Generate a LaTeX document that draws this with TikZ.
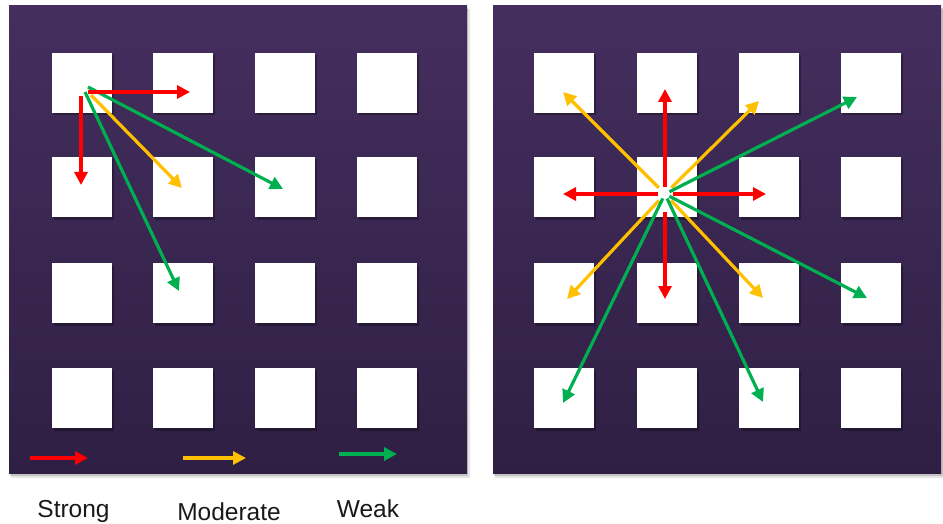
\documentclass[tikz,border=0pt]{standalone}
\usepackage{fontspec}
\setmainfont{Liberation Sans}
\usetikzlibrary{arrows.meta}
\definecolor{pantop}{RGB}{68,46,94}
\definecolor{panbot}{RGB}{47,31,68}
\definecolor{cred}{RGB}{255,0,0}
\definecolor{cyel}{RGB}{255,192,0}
\definecolor{cgrn}{RGB}{0,176,80}
\tikzset{
  cell/.style={fill=white, minimum size=60pt, inner sep=0pt, draw=none},
  link/.style={line width=3.2pt, -{Triangle[length=13pt,width=13pt]}},
  legendtext/.style={font=\fontsize{24.5}{28}\selectfont, anchor=base, text=black!90, text depth=0pt, inner ysep=1pt},
  panel/.style={top color=pantop, bottom color=panbot}
}
\begin{document}
\begin{tikzpicture}[x=1pt,y=-1pt]
\useasboundingbox (0,0) rectangle (943,524);
% panel shadows
\fill[black,opacity=0.10] (11,9) rectangle (470,478);
\fill[black,opacity=0.15] (10,8) rectangle (468,476);
\fill[black,opacity=0.10] (495,9) rectangle (943,478);
\fill[black,opacity=0.15] (494,8) rectangle (943,476);
% panels
\shade[panel] (9,6) rectangle (467,473);
\shade[panel] (493,6) rectangle (941,473);
% cells
\foreach \c/\x in {1/82,2/183,3/285,4/387}{
  \foreach \r/\y in {1/83,2/187,3/293,4/398}{
    \fill[black,opacity=0.3] (\x+2,\y+2.5) ++(-30,-30) rectangle ++(60,60);
    \node[cell] (L\r\c) at (\x,\y) {};
  }
}
\foreach \c/\x in {1/564,2/667,3/769,4/871}{
  \foreach \r/\y in {1/83,2/187,3/293,4/398}{
    \fill[black,opacity=0.3] (\x+2,\y+2.5) ++(-30,-30) rectangle ++(60,60);
    \node[cell] (R\r\c) at (\x,\y) {};
  }
}
% left arrows
\coordinate (Lo) at (87,90);
\coordinate (LtA) at (190,92);
\coordinate (LtB) at (81,185);
\coordinate (LtC) at (182,188);
\coordinate (LtD) at (283,189);
\coordinate (LtE) at (179,291);
\draw[link,cgrn] ([shift={(1,-3)}]Lo) -- (LtD);
\draw[link,cgrn] ([shift={(-2,2)}]Lo) -- (LtE);
\draw[link,cyel] ([shift={(4,5)}]Lo) -- (LtC);
\draw[link,cred] ([shift={(1,2)}]Lo) -- (LtA);
\draw[link,cred] ([shift={(-6,6)}]Lo) -- (LtB);
% right arrows
\coordinate (Ro) at (665,194);
\coordinate (RtN) at (665,89);
\coordinate (RtS) at (665,299);
\coordinate (RtW) at (563,194);
\coordinate (RtE) at (766,194);
\coordinate (RtNW) at (563,92);
\coordinate (RtNE) at (759,101);
\coordinate (RtSW) at (567,299);
\coordinate (RtSE) at (763,298);
\coordinate (RtG1) at (857,97);
\coordinate (RtG2) at (867,298);
\coordinate (RtG3) at (563,403);
\coordinate (RtG4) at (763,402);
\foreach \t in {RtNW,RtNE,RtSW,RtSE}{
  \draw[link,cyel,shorten <=9pt] (Ro) -- (\t);
}
\foreach \t in {RtG1,RtG2,RtG3,RtG4}{
  \draw[link,cgrn,shorten <=5pt] (Ro) -- (\t);
}
\draw[link,cred,shorten <=7pt] (Ro) -- (RtN);
\draw[link,cred,shorten <=18pt] (Ro) -- (RtS);
\draw[link,cred,shorten <=7pt] (Ro) -- (RtW);
\draw[link,cred,shorten <=8pt] (Ro) -- (RtE);
% legend
\coordinate (La1) at (30,458); \coordinate (La2) at (88,458);
\coordinate (Lb1) at (183,458); \coordinate (Lb2) at (246,458);
\coordinate (Lc1) at (339,454); \coordinate (Lc2) at (397,454);
\draw[link,cred] (La1) -- (La2);
\draw[link,cyel] (Lb1) -- (Lb2);
\draw[link,cgrn] (Lc1) -- (Lc2);
\node[legendtext] (tStrong) at (73.5,517) {Strong};
\node[legendtext] (tModerate) at (229,520) {Moderate};
\node[legendtext] (tWeak) at (368,517) {Weak};
\end{tikzpicture}
\end{document}
